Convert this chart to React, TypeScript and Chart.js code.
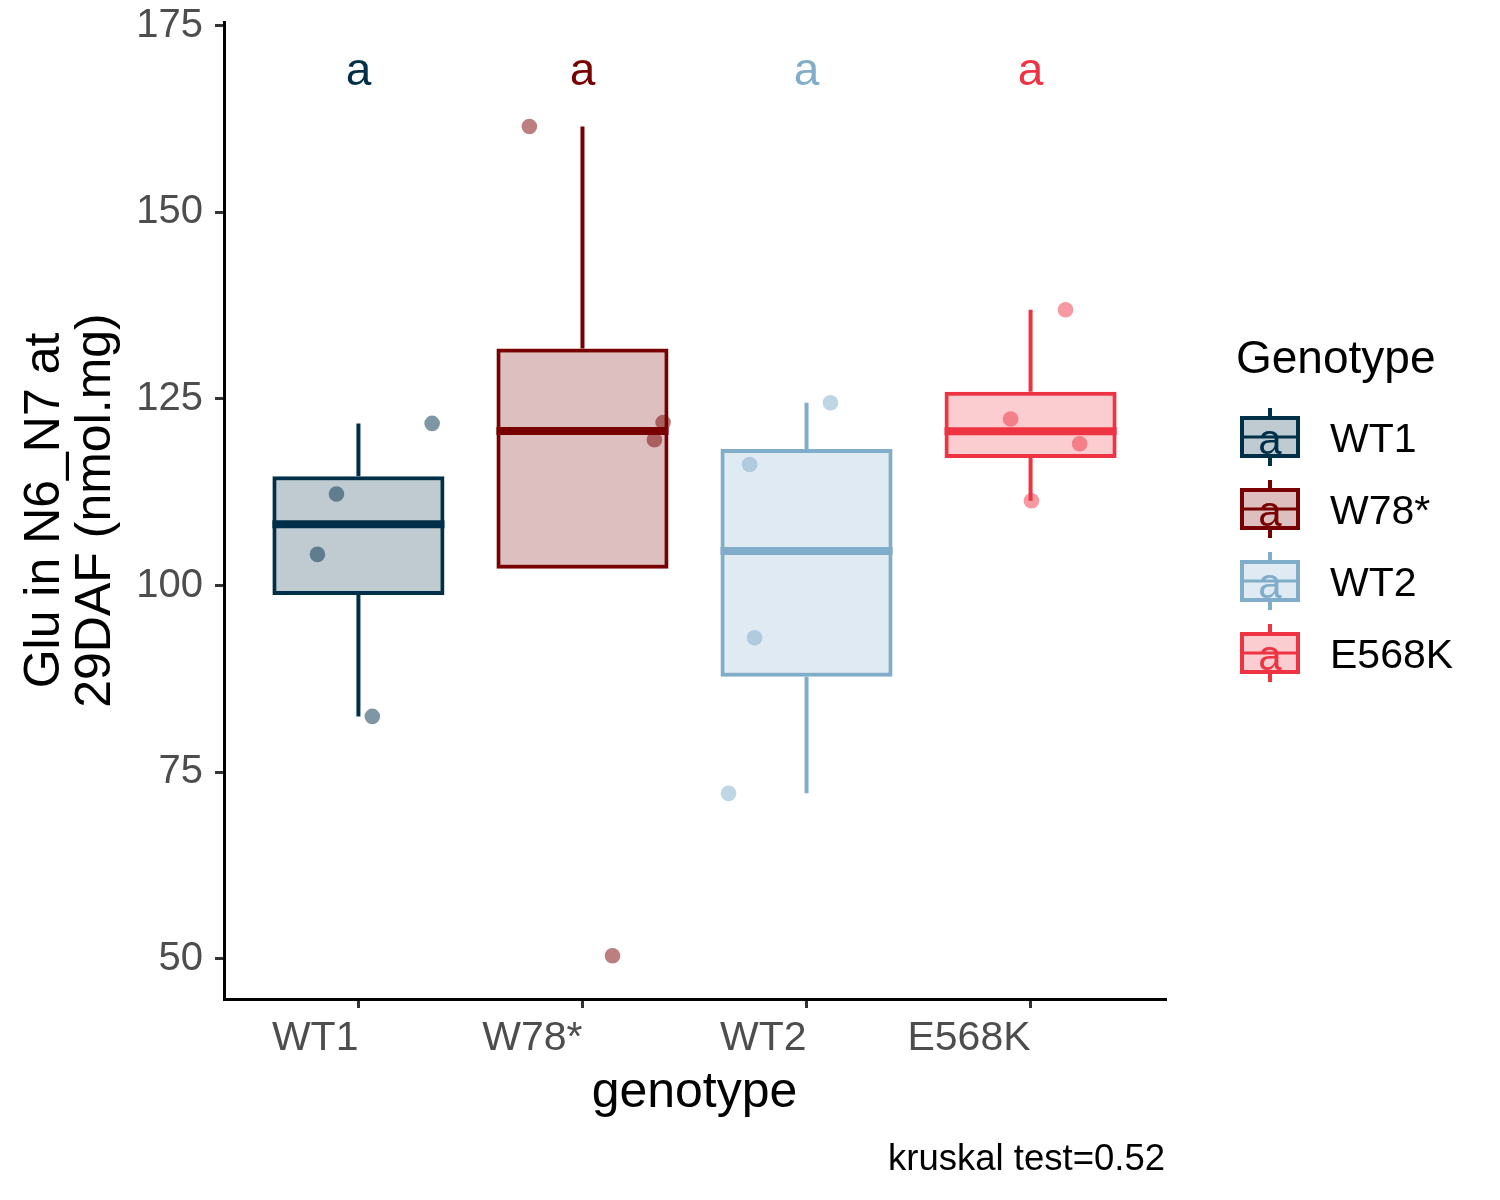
import React, { useEffect, useRef } from 'react';
import { Chart, registerables, Plugin } from 'chart.js';

Chart.register(...registerables);

// --- data ---
const genotypes = ['WT1', 'W78*', 'WT2', 'E568K'];
const lineColors = ['#003049', '#780000', '#7FADCA', '#EE3342'];
const fillColors = ['rgba(0,48,73,0.25)', 'rgba(120,0,0,0.25)', 'rgba(127,173,202,0.25)', 'rgba(238,51,66,0.25)'];
const pointColors = ['rgba(0,48,73,0.5)', 'rgba(120,0,0,0.5)', 'rgba(127,173,202,0.5)', 'rgba(238,51,66,0.5)'];

// Glu values per genotype (nmol.mg)
const gluWT1 = [112.27, 104.17, 121.72, 82.46];
const gluW78 = [161.5, 50.4, 119.53, 121.85];
const gluWT2 = [124.49, 116.22, 93.0, 72.15];
const gluE568K = [136.95, 122.31, 119.0, 111.36];
const gluValues = [gluWT1, gluW78, gluWT2, gluE568K];

// horizontal jitter of each point, in category units
const jitterWT1 = [-0.098, -0.183, 0.329, 0.062];
const jitterW78 = [-0.237, 0.134, 0.321, 0.36];
const jitterWT2 = [0.107, -0.254, -0.232, -0.348];
const jitterE568K = [0.156, -0.089, 0.219, 0.004];
const jitters = [jitterWT1, jitterW78, jitterWT2, jitterE568K];

const groupLetters = ['a', 'a', 'a', 'a'];
const letterY = 168.8;
const yTicks = [50, 75, 100, 125, 150, 175];
const yMin = 44.6;
const yMax = 175.5;
const kruskalP = 0.52;

const FONT = '"Liberation Sans", Arial, sans-serif';

// ggplot-style box stats (quantile type 7, 1.5 IQR whiskers)
const quantile = (s: number[], p: number) => {
  const h = (s.length - 1) * p;
  const lo = Math.floor(h);
  const hi = Math.min(lo + 1, s.length - 1);
  return s[lo] + (h - lo) * (s[hi] - s[lo]);
};
const boxStats = gluValues.map((vals) => {
  const s = [...vals].sort((a, b) => a - b);
  const q1 = quantile(s, 0.25);
  const med = quantile(s, 0.5);
  const q3 = quantile(s, 0.75);
  const iqr = q3 - q1;
  const inside = s.filter((v) => v >= q1 - 1.5 * iqr && v <= q3 + 1.5 * iqr);
  return { q1, med, q3, lo: Math.min(...inside), hi: Math.max(...inside) };
});

const boxPlugin: Plugin = {
  id: 'boxExtras',
  beforeDatasetsDraw(chart) {
    const { ctx, scales } = chart;
    const x = scales.x;
    const y = scales.y;
    ctx.save();
    ctx.lineWidth = 4;
    boxStats.forEach((b, i) => {
      const px = x.getPixelForValue(i + 1);
      ctx.strokeStyle = lineColors[i];
      ctx.beginPath();
      if (b.hi > b.q3) {
        ctx.moveTo(px, y.getPixelForValue(b.q3));
        ctx.lineTo(px, y.getPixelForValue(b.hi));
      }
      if (b.lo < b.q1) {
        ctx.moveTo(px, y.getPixelForValue(b.q1));
        ctx.lineTo(px, y.getPixelForValue(b.lo));
      }
      ctx.stroke();
    });
    ctx.restore();
  },
  afterDatasetDraw(chart, args) {
    if (args.index !== 0) return;
    const { ctx, scales } = chart;
    const meta = chart.getDatasetMeta(0);
    ctx.save();
    ctx.lineWidth = 8;
    boxStats.forEach((b, i) => {
      const el: any = meta.data[i];
      const py = scales.y.getPixelForValue(b.med);
      ctx.strokeStyle = lineColors[i];
      ctx.beginPath();
      ctx.moveTo(el.x - el.width / 2, py);
      ctx.lineTo(el.x + el.width / 2, py);
      ctx.stroke();
    });
    ctx.restore();
  },
  afterDraw(chart) {
    const { ctx, scales } = chart;
    ctx.save();
    // significance letters
    ctx.font = `46px ${FONT}`;
    ctx.textAlign = 'center';
    ctx.textBaseline = 'middle';
    groupLetters.forEach((l, i) => {
      ctx.fillStyle = lineColors[i];
      ctx.fillText(l, scales.x.getPixelForValue(i + 1), scales.y.getPixelForValue(letterY));
    });

    // legend
    ctx.textAlign = 'left';
    ctx.textBaseline = 'alphabetic';
    ctx.fillStyle = '#000';
    ctx.font = `46px ${FONT}`;
    ctx.fillText('Genotype', 1236, 373);
    genotypes.forEach((g, i) => {
      const cy = 437 + 72 * i;
      const cx = 1270;
      ctx.lineWidth = 4;
      ctx.strokeStyle = lineColors[i];
      ctx.beginPath();
      ctx.moveTo(cx, cy - 29);
      ctx.lineTo(cx, cy - 19);
      ctx.moveTo(cx, cy + 19);
      ctx.lineTo(cx, cy + 29);
      ctx.stroke();
      ctx.fillStyle = '#fff';
      ctx.fillRect(cx - 28, cy - 19, 56, 38);
      ctx.fillStyle = fillColors[i];
      ctx.fillRect(cx - 28, cy - 19, 56, 38);
      ctx.strokeRect(cx - 28, cy - 19, 56, 38);
      ctx.lineWidth = 3;
      ctx.beginPath();
      ctx.moveTo(cx - 28, cy);
      ctx.lineTo(cx + 28, cy);
      ctx.stroke();
      ctx.fillStyle = lineColors[i];
      ctx.font = `42px ${FONT}`;
      ctx.textAlign = 'center';
      ctx.fillText(groupLetters[i], cx, cy + 17);
      ctx.textAlign = 'left';
      ctx.fillStyle = '#000';
      ctx.font = `41px ${FONT}`;
      ctx.fillText(g, 1330, cy + 15);
    });

    // caption
    ctx.textAlign = 'right';
    ctx.font = `36.5px ${FONT}`;
    ctx.fillStyle = '#000';
    ctx.fillText(`kruskal test=${kruskalP}`, 1165, 1170);
    ctx.restore();
  },
};

const App: React.FC = () => {
  const canvasRef = useRef<HTMLCanvasElement>(null);

  useEffect(() => {
    const ctx = canvasRef.current!.getContext('2d')!;

    const boxDataset: any = {
      type: 'bar',
      data: boxStats.map((b, i) => ({ x: i + 1, y: [b.q1, b.q3] })),
      backgroundColor: fillColors,
      borderColor: lineColors,
      borderWidth: 4,
      borderSkipped: false,
      categoryPercentage: 1,
      barPercentage: 0.768,
      order: 2,
    };
    const pointDatasets: any[] = gluValues.map((vals, i) => ({
      type: 'scatter',
      data: vals.map((v, j) => ({ x: i + 1 + jitters[i][j], y: v })),
      backgroundColor: pointColors[i],
      borderWidth: 0,
      pointRadius: 7.8,
      order: 1,
    }));

    const axisGrid = {
      display: true,
      drawOnChartArea: false,
      drawTicks: true,
      tickLength: 9,
      color: '#333333',
      lineWidth: 3,
      offset: false,
    };

    const chart = new Chart(ctx, {
      type: 'bar',
      data: { datasets: [boxDataset, ...pointDatasets] },
      options: {
        responsive: false,
        animation: false,
        events: [],
        layout: { autoPadding: false, padding: { left: 0, top: 22, right: 335, bottom: 0 } },
        plugins: { legend: { display: false }, tooltip: { enabled: false } },
        scales: {
          x: {
            type: 'linear',
            min: 0.4,
            max: 4.6,
            offset: false,
            afterBuildTicks: (s: any) => {
              s.ticks = genotypes.map((_, i) => ({ value: i + 1 }));
            },
            afterFit: (s: any) => {
              s.height = 201;
              s.paddingLeft = 0;
              s.paddingRight = 0;
            },
            ticks: {
              callback: (v: any) => genotypes[Math.round(v) - 1],
              align: 'end',
              maxRotation: 0,
              autoSkip: false,
              color: '#4D4D4D',
              font: { family: FONT, size: 41, lineHeight: 1.2 },
              padding: 6,
            },
            grid: axisGrid,
            border: { display: true, color: '#000', width: 3 },
            title: {
              display: true,
              text: 'genotype',
              color: '#000',
              font: { family: FONT, size: 50, lineHeight: 1.2 },
              padding: { top: 0, bottom: 77 },
            },
          },
          y: {
            type: 'linear',
            min: yMin,
            max: yMax,
            afterBuildTicks: (s: any) => {
              s.ticks = yTicks.map((v) => ({ value: v }));
            },
            afterFit: (s: any) => {
              s.width = 224;
              s.paddingTop = 0;
              s.paddingBottom = 0;
            },
            ticks: {
              color: '#4D4D4D',
              font: { family: FONT, size: 40, lineHeight: 1 },
              padding: 12,
            },
            grid: axisGrid,
            border: { display: true, color: '#000', width: 3 },
            title: {
              display: true,
              text: ['Glu in N6_N7 at', '29DAF (nmol.mg)'],
              color: '#000',
              font: { family: FONT, size: 50, lineHeight: 1.02 },
              padding: { top: 19.5, bottom: 0 },
            },
          },
        },
      } as any,
      plugins: [boxPlugin],
    });

    return () => {
      chart.destroy();
    };
  }, []);

  return (
    <div style={{ position: 'absolute', left: 0, top: 0, width: 1500, height: 1200, background: '#fff' }}>
      <canvas ref={canvasRef} width={1500} height={1200} style={{ display: 'block' }} />
    </div>
  );
};

export default App;
